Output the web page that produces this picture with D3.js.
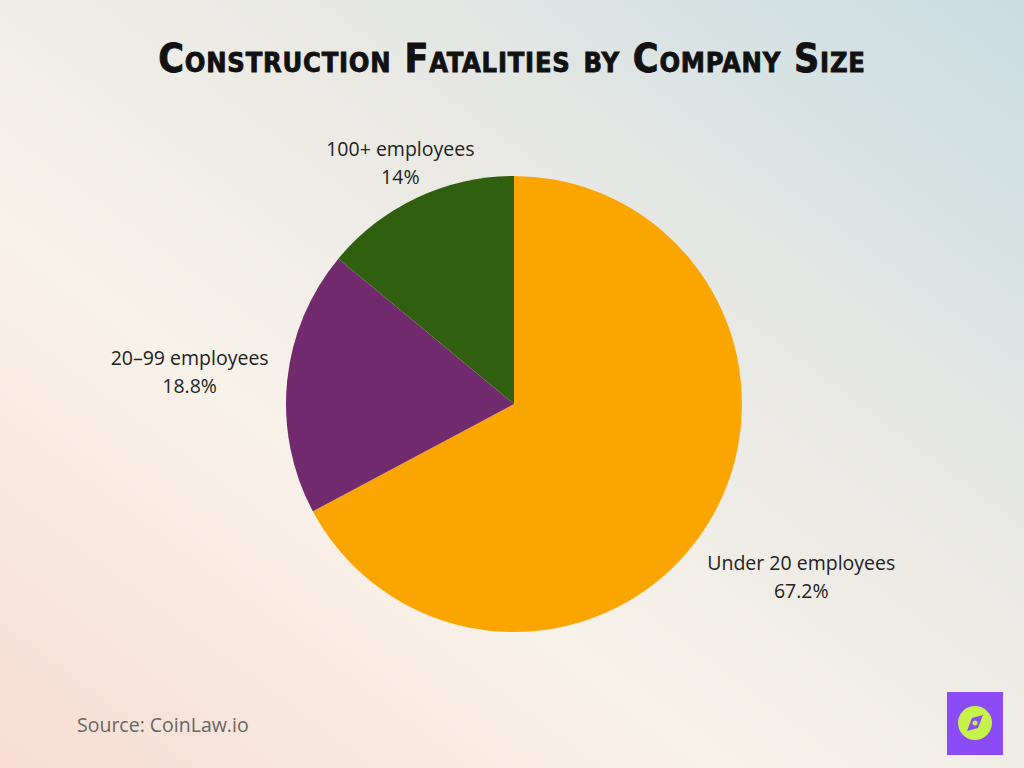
<!DOCTYPE html>
<html><head><meta charset="utf-8">
<script src="https://cdn.jsdelivr.net/npm/d3@7"></script>
<style>body{margin:0}</style></head>
<body><svg id="c" width="1024" height="768"></svg>
<script>
const categories = ["Under 20 employees","20–99 employees","100+ employees"];
const values = [67.2,18.8,14];
const valueLabels = ["67.2%","18.8%","14%"];
const colors = ["#FBA500","#722A6E","#30600F"];

const svg = d3.select("#c");
const defs = svg.append("defs");
const g1 = defs.append("linearGradient").attr("id","bg").attr("x1","0").attr("y1","1").attr("x2","1").attr("y2","0");
g1.append("stop").attr("offset","0").attr("stop-color","#F8DCD2");
g1.append("stop").attr("offset","0.35").attr("stop-color","#F8F2EA");
g1.append("stop").attr("offset","0.65").attr("stop-color","#E8E8E4");
g1.append("stop").attr("offset","1").attr("stop-color","#C9DDE2");
svg.append("rect").attr("width",1024).attr("height",768).attr("fill","url(#bg)");

svg.append("text").attr("x",512).attr("y",72).attr("text-anchor","middle")
 .attr("font-family","Liberation Sans Narrow, DejaVu Sans Condensed").attr("font-weight","bold")
 .attr("font-size",39).style("font-variant","small-caps").attr("letter-spacing",0.8)
 .attr("stroke","#111").attr("stroke-width",0.8)
 .attr("fill","#111").text("Construction Fatalities by Company Size");

const cx=514, cy=404, r=228;
const labelRadius = [r+107, r+98, r+39];
const pie = d3.pie().sort(null).value(d=>d);
const arc = d3.arc().innerRadius(0).outerRadius(r);
const arcs = pie(values);
const g = svg.append("g").attr("transform",`translate(${cx},${cy})`);
g.selectAll("path").data(arcs).join("path").attr("d",arc).attr("fill",(d,i)=>colors[i]);

arcs.forEach((d,i)=>{
  const [x,y]=d3.arc().innerRadius(labelRadius[i]).outerRadius(labelRadius[i]).centroid(d);
  const t=g.append("text").attr("text-anchor","middle").attr("font-family","Open Sans, Noto Sans")
   .attr("font-size",19.5).attr("fill","#222");
  t.append("tspan").attr("x",x).attr("y",y-6).text(categories[i]);
  t.append("tspan").attr("x",x).attr("y",y+22).text(valueLabels[i]);
});

svg.append("text").attr("x",77).attr("y",732).attr("font-family","Open Sans, Noto Sans")
 .attr("font-size",19.5).attr("fill","#666").text("Source: CoinLaw.io");

const lg = svg.append("g").attr("transform","translate(947,692)");
lg.append("rect").attr("width",56).attr("height",63).attr("fill","#8B4BF5");
lg.append("circle").attr("cx",28).attr("cy",31).attr("r",17).attr("fill","#C6F24A");
lg.append("path").attr("d","M20,39 L25,26 L36,23 L31,36 Z").attr("fill","#8B4BF5");
lg.append("circle").attr("cx",28).attr("cy",31).attr("r",2.5).attr("fill","#C6F24A");
</script></body></html>
